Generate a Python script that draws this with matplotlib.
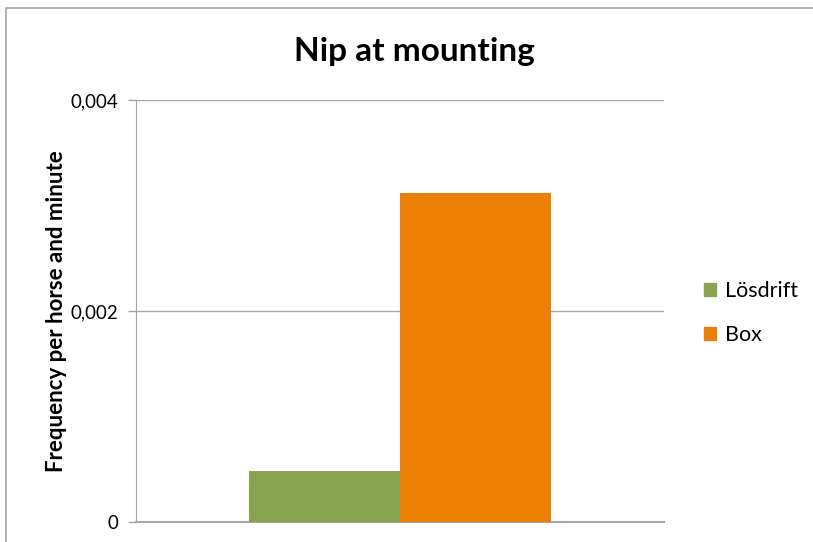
import matplotlib.pyplot as plt
from matplotlib.patches import Rectangle, Patch
from matplotlib.ticker import FixedLocator, FuncFormatter

plt.rcParams['font.family'] = ['Lato', 'DejaVu Sans']

series = ['Lösdrift', 'Box']
values = [0.00048, 0.00312]
colors = ['#88a44e', '#ec7f06']

fig = plt.figure(figsize=(8.13, 5.42), dpi=100)
ax = fig.add_axes([136 / 813, 1 - 522 / 542, 528 / 813, 422 / 542])

bar_w = 0.286
for i, (name, v, c) in enumerate(zip(series, values, colors)):
    ax.bar((i - 0.5) * bar_w, v, bar_w, color=c, label=name, zorder=3)

ax.set_xlim(-0.5, 0.5)
ax.set_ylim(0, 0.004)
ax.yaxis.set_major_locator(FixedLocator([0, 0.002, 0.004]))
ax.yaxis.set_major_formatter(FuncFormatter(lambda v, p: '0' if v == 0 else f'{v:.3f}'.replace('.', ',')))
ax.set_xticks([])
ax.grid(axis='y', color='#a6a6a6', linewidth=1, zorder=0)
for s in ['top', 'right']:
    ax.spines[s].set_visible(False)
ax.spines['left'].set_color('#a6a6a6')
ax.spines['bottom'].set_color('#a6a6a6')
ax.spines['bottom'].set_linewidth(1.5)
ax.tick_params(axis='y', colors='#a6a6a6', labelcolor='black', length=6, width=1,
               labelsize=13.5, pad=7)

ax.set_ylabel('Frequency per horse and minute', fontsize=16, fontweight='bold')
ax.yaxis.set_label_coords(-0.131, 0.5)
fig.text(414 / 813, 1 - 52 / 542, 'Nip at mounting', fontsize=24, fontweight='bold',
         ha='center', va='center')

handles = [Patch(color=c, label=n) for n, c in zip(series, colors)]
fig.legend(handles=handles, loc='center left', bbox_to_anchor=(685 / 813, 1 - 313 / 542),
           frameon=False, fontsize=15.5, handlelength=0.55, handleheight=0.55,
           handletextpad=0.4, labelspacing=1.1)

# outer chart border
fig.add_artist(Rectangle((6 / 813, -0.1), 1.1, 1 - 8 / 542 + 0.1, transform=fig.transFigure,
                         fill=False, edgecolor='#a6a6a6', linewidth=1.2, clip_on=False))

fig.savefig('out.png', dpi=100)
